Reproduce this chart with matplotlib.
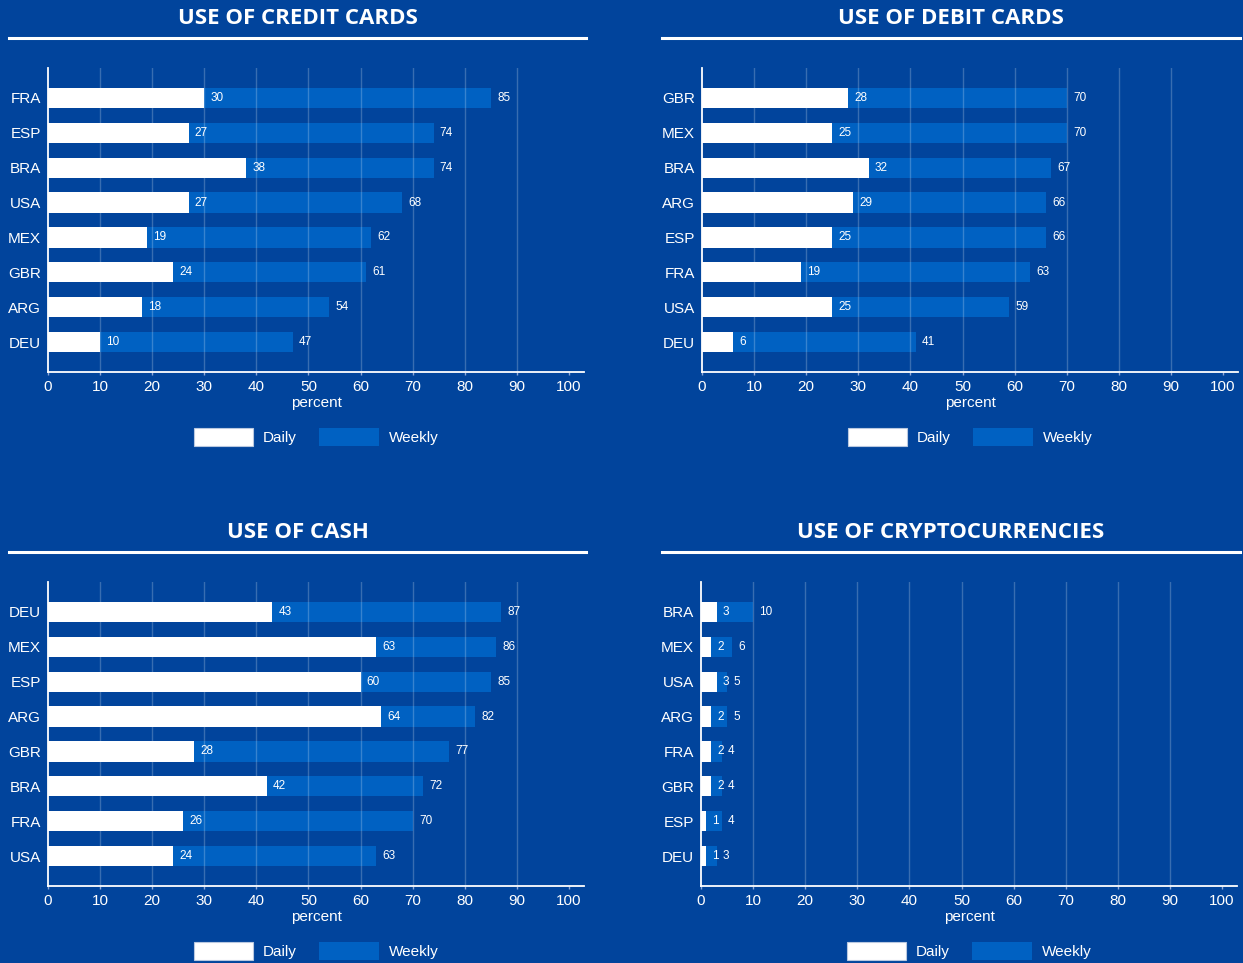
import matplotlib
matplotlib.use("Agg")
import matplotlib.pyplot as plt
from matplotlib.lines import Line2D
from matplotlib.ticker import FixedLocator

# ---- data ----
credit_countries = ["FRA", "ESP", "BRA", "USA", "MEX", "GBR", "ARG", "DEU"]
credit_daily = [30, 27, 38, 27, 19, 24, 18, 10]
credit_weekly = [85, 74, 74, 68, 62, 61, 54, 47]

debit_countries = ["GBR", "MEX", "BRA", "ARG", "ESP", "FRA", "USA", "DEU"]
debit_daily = [28, 25, 32, 29, 25, 19, 25, 6]
debit_weekly = [70, 70, 67, 66, 66, 63, 59, 41]

cash_countries = ["DEU", "MEX", "ESP", "ARG", "GBR", "BRA", "FRA", "USA"]
cash_daily = [43, 63, 60, 64, 28, 42, 26, 24]
cash_weekly = [87, 86, 85, 82, 77, 72, 70, 63]

crypto_countries = ["BRA", "MEX", "USA", "ARG", "FRA", "GBR", "ESP", "DEU"]
crypto_daily = [3, 2, 3, 2, 2, 2, 1, 1]
crypto_weekly = [10, 6, 5, 5, 4, 4, 4, 3]

titles = ["USE OF CREDIT CARDS", "USE OF DEBIT CARDS", "USE OF CASH", "USE OF CRYPTOCURRENCIES"]
x_ticks = list(range(0, 101, 10))
series_names = ["Daily", "Weekly"]

# ---- style ----
BG = "#01449c"
WEEKLY = "#0061c2"
DAILY = "#ffffff"
FONT = "Liberation Sans"
plt.rcParams["font.family"] = [FONT, "DejaVu Sans"]

W, H = 1243, 963
fig = plt.figure(figsize=(W / 100, H / 100), dpi=100, facecolor=BG)

panels = [
    (credit_countries, credit_daily, credit_weekly),
    (debit_countries, debit_daily, debit_weekly),
    (cash_countries, cash_daily, cash_weekly),
    (crypto_countries, crypto_daily, crypto_weekly),
]

# pixel layout: (axes left, axes right, axes top, axes bottom, title y, underline y, underline x0, x1)
layout = [
    (48, 584, 68, 372, 19, 38, 9, 586),
    (702, 1238, 68, 372, 19, 38, 662, 1240),
    (48, 584, 582, 886, 532, 552, 9, 586),
    (701, 1237, 582, 886, 532, 552, 662, 1240),
]

for (countries, daily, weekly), title, (l, r, t, b, ty, uy, ux0, ux1) in zip(panels, titles, layout):
    ax = fig.add_axes([l / W, 1 - b / H, (r - l) / W, (b - t) / H])
    ax.set_facecolor(BG)
    xmax = 100 * (r - l) / 521.0
    n = len(countries)
    ypos = list(range(n))
    hb = ax.barh(ypos, weekly, height=0.58, color=WEEKLY, zorder=1, label=series_names[1])
    hd = ax.barh(ypos, daily, height=0.58, color=DAILY, zorder=3, label=series_names[0])
    for yv, d, w in zip(ypos, daily, weekly):
        ax.annotate(str(d), (d, yv), xytext=(4.5, 0), textcoords="offset points",
                    ha="left", va="center", color="white", fontsize=8.5, zorder=4)
        ax.annotate(str(w), (w, yv), xytext=(4.5, 0), textcoords="offset points",
                    ha="left", va="center", color="white", fontsize=8.5, zorder=4)
    ax.set_xlim(0, xmax)
    pad = 30 / 35.0
    ax.set_ylim(n - 1 + pad, -pad)
    ax.set_yticks(ypos)
    ax.set_yticklabels(countries)
    ax.xaxis.set_major_locator(FixedLocator(x_ticks))
    for s in ["top", "right"]:
        ax.spines[s].set_visible(False)
    for s in ["left", "bottom"]:
        ax.spines[s].set_color("white")
        ax.spines[s].set_linewidth(1.3)
        ax.spines[s].set_zorder(5)
    ax.tick_params(axis="y", length=0, pad=5, labelsize=11, labelcolor="white")
    ax.tick_params(axis="x", length=2.5, width=1, color="#8fa8d8", pad=3,
                   labelsize=11, labelcolor="white")
    ax.grid(axis="x", color="#ffffff", alpha=0.22, linewidth=1.0)
    ax.set_axisbelow(False)
    gls = ax.xaxis.get_gridlines()
    for gl in gls:
        gl.set_color("#ffffff")
        gl.set_alpha(0.22)
        gl.set_zorder(2)
    gls[0].set_visible(False)
    gls[-1].set_visible(False)
    ax.set_xlabel("percent", color="white", fontsize=11, labelpad=2)
    leg = ax.legend(handles=[hd, hb], loc="center", bbox_to_anchor=(0.5, -0.214),
                    ncol=2, frameon=False, fontsize=11, labelcolor="white",
                    handlelength=3.9, handleheight=1.4, handletextpad=0.65,
                    columnspacing=1.45)
    leg.legend_handles[0].set_edgecolor("#b8c8e0")
    leg.legend_handles[0].set_linewidth(0.8)
    # title and underline
    fig.text((ux0 + ux1) / 2 / W, 1 - ty / H, title, ha="center", va="center",
             color="white", fontsize=16, fontweight="bold",
             family=["Open Sans", "DejaVu Sans"])
    fig.add_artist(Line2D([ux0 / W, ux1 / W], [1 - uy / H, 1 - uy / H],
                          transform=fig.transFigure, color="white", linewidth=2.2))

fig.savefig("out.png", dpi=100, facecolor=BG)
